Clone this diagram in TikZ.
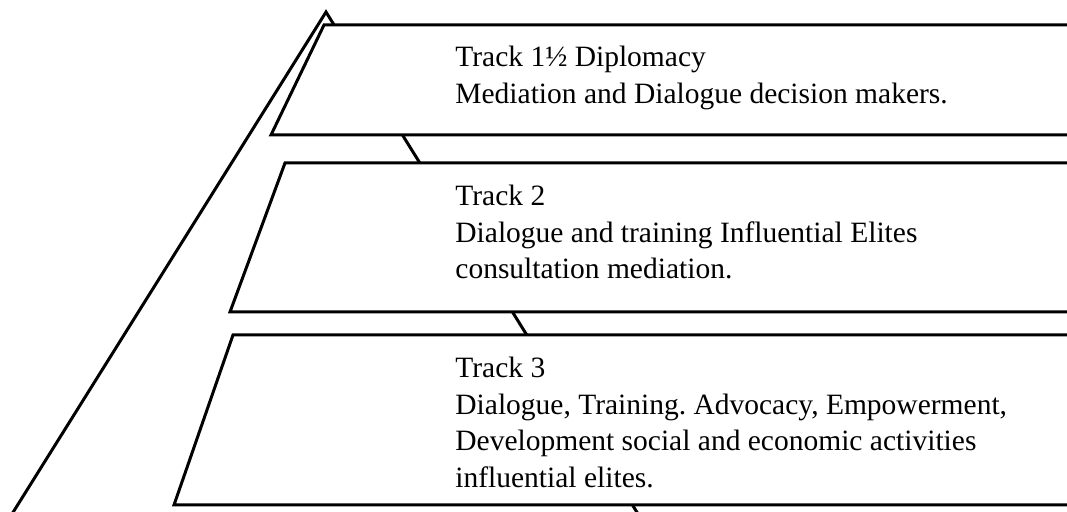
\documentclass[tikz,border=0pt]{standalone}
\usepackage{fontspec}
\setmainfont{Liberation Serif}
\usetikzlibrary{positioning}
\frenchspacing
\tikzset{band/.style={draw,fill=white,line width=1.5pt},
    tracktext/.style={anchor=north west,inner sep=0pt,align=left,
        font=\fontsize{14.75}{18.25}\selectfont}
}

\begin{document}
\begin{tikzpicture}[x=0.5pt,y=-0.5pt]
      \useasboundingbox (0,0) rectangle (1067,512);
      \clip (0,0) rectangle (1067,512);
      % big triangle behind the bands
      \draw[line width=1.5pt] (2,530) -- (326,12) -- (648,530);
      \draw[band] (324,25) -- (1100,25) -- (1100,135) -- (271,135) -- cycle;
      \draw[band] (285,163) -- (1100,163) -- (1100,312) -- (230,312) -- cycle;
      \draw[band] (233,335) -- (1100,335) -- (1100,505) -- (174,505) -- cycle;
      \node[tracktext] (track1) at (455,46) {Track 1½ Diplomacy\\Mediation and Dialogue decision makers.};
      \node[tracktext] (track2) at (455,185) {Track 2\\Dialogue and training Influential Elites\\consultation mediation.};
      \node[tracktext] (track3) at (455,357) {Track 3\\Dialogue, Training. Advocacy, Empowerment,\\Development social and economic activities\\influential elites.};
\end{tikzpicture}
\end{document}
